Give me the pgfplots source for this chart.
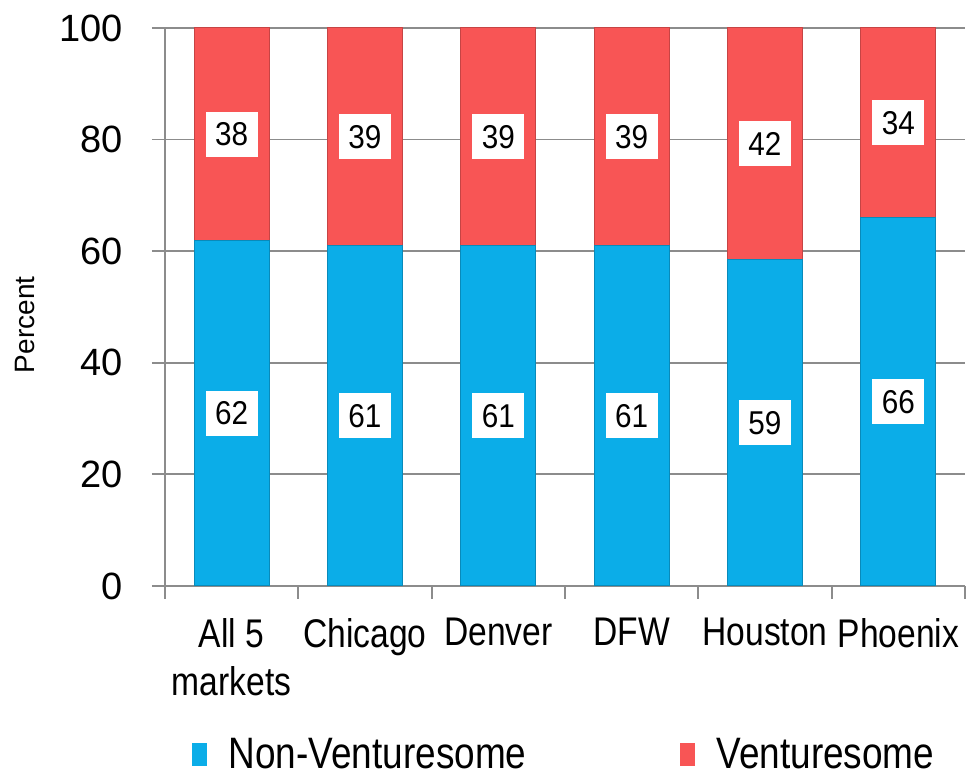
\documentclass[border=0pt]{standalone}
\usepackage{fontspec}
\setmainfont{Liberation Sans}
\newfontfamily\narrowfont{Liberation Sans}[FakeStretch=0.84]
\newfontfamily\labelfont{Liberation Sans}[FakeStretch=0.9]
\usepackage{pgfplots}
\pgfplotsset{compat=1.18}
\definecolor{nonvent}{RGB}{11,173,232}
\definecolor{vent}{RGB}{248,85,85}
\definecolor{gridgray}{RGB}{140,140,140}

\begin{document}
\begin{tikzpicture}
\useasboundingbox (-82.5pt,-96.5pt) rectangle (402pt,293pt);
\begin{axis}[
  at={(0,0)}, anchor=south west,
  scale only axis,
  width=400pt, height=279pt,
  ybar stacked,
  bar width=37.5pt,
  xmin=-0.5, xmax=5.5,
  ymin=0, ymax=100,
  xtick={-0.5,0.5,1.5,2.5,3.5,4.5,5.5},
  x tick label as interval,
  xticklabels={{All 5\\markets},Chicago,Denver,DFW,Houston,Phoenix},
  xticklabel style={align=center, anchor=north, yshift=-6pt,
    font=\narrowfont\fontsize{20}{24}\selectfont},
  ytick={0,20,40,60,80,100},
  yticklabel style={xshift=-11pt, font=\fontsize{19}{19}\selectfont},
  /pgf/number format/assume math mode=true,
  ymajorgrids,
  grid style={gridgray, line width=0.9pt},
  axis x line*=bottom,
  axis y line*=left,
  axis line style={gridgray, line width=0.9pt},
  tick style={gridgray, line width=0.9pt},
  tick align=outside,
  major tick length=6.5pt,
  clip=false,
  nodes near coords,
  point meta=explicit symbolic,
  every node near coord/.append style={anchor=center,
    fill=white, text=black, inner sep=0pt,
    minimum width=26pt, minimum height=22.5pt,
    font=\labelfont\fontsize{16.5}{16.5}\selectfont},
  legend columns=2,
  legend style={at={(0.5,-0.302)}, anchor=center, draw=none,
    font=\narrowfont\fontsize{22}{22}\selectfont,
    /tikz/every even column/.append style={column sep=74.5pt}},
]
\addplot[fill=nonvent, draw=nonvent!80!black, line width=0.5pt,
  legend image code/.code={\fill[nonvent] (-16pt,-5.5pt) rectangle (-9pt,5.5pt); \path (0pt,0pt);}]
  coordinates {(0,62)[62] (1,61)[61] (2,61)[61] (3,61)[61] (4,58.5)[59] (5,66)[66]};
\addplot[fill=vent, draw=vent!80!black, line width=0.5pt,
  legend image code/.code={\fill[vent] (-16pt,-5.5pt) rectangle (-9pt,5.5pt); \path (0pt,0pt);}]
  coordinates {(0,38)[38] (1,39)[39] (2,39)[39] (3,39)[39] (4,41.5)[42] (5,34)[34]};
\legend{Non-Venturesome,Venturesome}
\node[rotate=90, font=\fontsize{14}{14}\selectfont] at (axis description cs:-0.175,0.468) {Percent};
\end{axis}
\end{tikzpicture}
\end{document}
